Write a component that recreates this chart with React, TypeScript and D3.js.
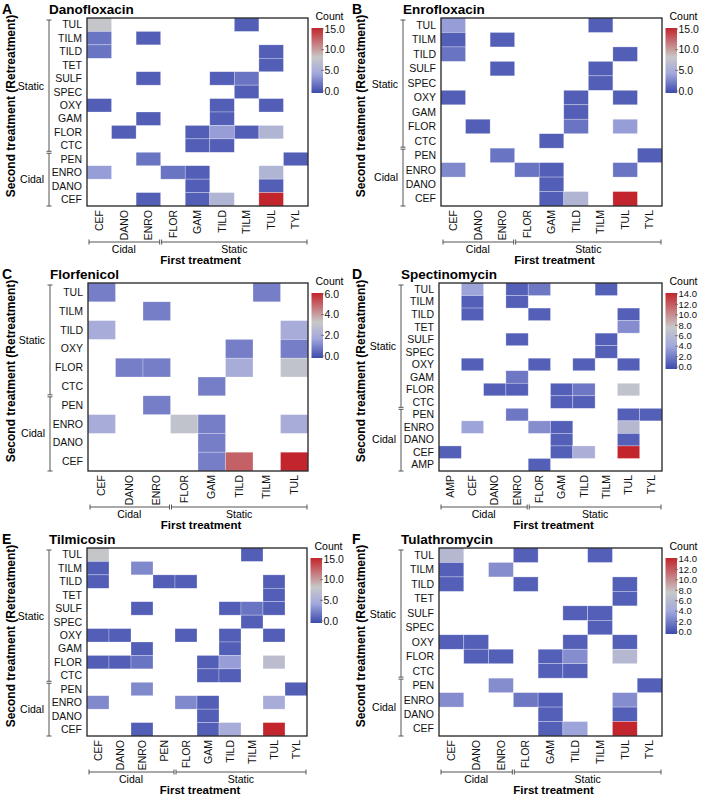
import React from "react";
import * as d3 from "d3";

// ---------- DATA ----------
const colsStd = ["CEF", "DANO", "ENRO", "FLOR", "GAM", "TILD", "TILM", "TUL", "TYL"];

const rowsA = ["TUL", "TILM", "TILD", "TET", "SULF", "SPEC", "OXY", "GAM", "FLOR", "CTC", "PEN", "ENRO", "DANO", "CEF"];
const valsA = [
  [8, 0, 0, 0, 0, 0, 1, 0, 0],
  [2, 0, 1, 0, 0, 0, 0, 0, 0],
  [2, 0, 0, 0, 0, 0, 0, 1, 0],
  [0, 0, 0, 0, 0, 0, 0, 1, 0],
  [0, 0, 1, 0, 0, 1, 2, 0, 0],
  [0, 0, 0, 0, 0, 0, 1, 0, 0],
  [1, 0, 0, 0, 0, 1, 0, 1, 0],
  [0, 0, 1, 0, 0, 1, 0, 0, 0],
  [0, 1, 0, 0, 1, 4, 1, 6, 0],
  [0, 0, 0, 0, 1, 1, 0, 0, 0],
  [0, 0, 2, 0, 0, 0, 0, 0, 1],
  [4, 0, 0, 2, 1, 0, 0, 6, 0],
  [0, 0, 0, 0, 1, 0, 0, 1, 0],
  [0, 0, 1, 0, 1, 6, 0, 15, 0],
];

const rowsB = ["TUL", "TILM", "TILD", "SULF", "SPEC", "OXY", "GAM", "FLOR", "CTC", "PEN", "ENRO", "DANO", "CEF"];
const valsB = [
  [4, 0, 0, 0, 0, 0, 1, 0, 0],
  [1, 0, 1, 0, 0, 0, 0, 0, 0],
  [2, 0, 0, 0, 0, 0, 0, 1, 0],
  [0, 0, 1, 0, 0, 0, 1, 0, 0],
  [0, 0, 0, 0, 0, 0, 1, 0, 0],
  [1, 0, 0, 0, 0, 1, 0, 1, 0],
  [0, 0, 0, 0, 0, 1, 0, 0, 0],
  [0, 1, 0, 0, 0, 2, 0, 4, 0],
  [0, 0, 0, 0, 1, 0, 0, 0, 0],
  [0, 0, 2, 0, 0, 0, 0, 0, 1],
  [3, 0, 0, 2, 1, 0, 0, 2, 0],
  [0, 0, 0, 0, 1, 0, 0, 0, 0],
  [0, 0, 0, 0, 1, 6, 0, 15, 0],
];

const colsC = ["CEF", "DANO", "ENRO", "FLOR", "GAM", "TILD", "TILM", "TUL"];
const rowsC = ["TUL", "TILM", "TILD", "OXY", "FLOR", "CTC", "PEN", "ENRO", "DANO", "CEF"];
const valsC = [
  [1, 0, 0, 0, 0, 0, 1, 0],
  [0, 0, 1, 0, 0, 0, 0, 0],
  [2, 0, 0, 0, 0, 0, 0, 2],
  [0, 0, 0, 0, 0, 1, 0, 1],
  [0, 1, 1, 0, 0, 2, 0, 3],
  [0, 0, 0, 0, 1, 0, 0, 0],
  [0, 0, 1, 0, 0, 0, 0, 0],
  [2, 0, 0, 3, 1, 0, 0, 2],
  [0, 0, 0, 0, 1, 0, 0, 0],
  [0, 0, 0, 0, 1, 5, 0, 6],
];

const colsD = ["AMP", "CEF", "DANO", "ENRO", "FLOR", "GAM", "TILD", "TILM", "TUL", "TYL"];
const rowsD = ["TUL", "TILM", "TILD", "TET", "SULF", "SPEC", "OXY", "GAM", "FLOR", "CTC", "PEN", "ENRO", "DANO", "CEF", "AMP"];
const valsD = [
  [0, 4, 0, 1, 2, 0, 0, 1, 0, 0],
  [0, 1, 0, 1, 0, 0, 0, 0, 0, 0],
  [0, 1, 0, 0, 1, 0, 0, 0, 1, 0],
  [0, 0, 0, 0, 0, 0, 0, 0, 3, 0],
  [0, 0, 0, 1, 0, 0, 0, 1, 0, 0],
  [0, 0, 0, 0, 0, 0, 0, 1, 0, 0],
  [0, 1, 0, 0, 1, 0, 1, 0, 1, 0],
  [0, 0, 0, 2, 0, 0, 0, 0, 0, 0],
  [0, 0, 1, 1, 0, 1, 2, 0, 7, 0],
  [0, 0, 0, 0, 0, 1, 1, 0, 0, 0],
  [0, 0, 0, 2, 0, 0, 0, 0, 1, 1],
  [0, 4, 0, 0, 3, 1, 0, 0, 6, 0],
  [0, 0, 0, 0, 0, 1, 0, 0, 1, 0],
  [1, 0, 0, 0, 0, 1, 5, 0, 14, 0],
  [0, 0, 0, 0, 1, 0, 0, 0, 0, 0],
];

const colsE = ["CEF", "DANO", "ENRO", "PEN", "FLOR", "GAM", "TILD", "TILM", "TUL", "TYL"];
const rowsE = rowsA;
const valsE = [
  [8, 0, 0, 0, 0, 0, 0, 1, 0, 0],
  [1, 0, 3, 0, 0, 0, 0, 0, 0, 0],
  [1, 0, 0, 1, 1, 0, 0, 0, 1, 0],
  [0, 0, 0, 0, 0, 0, 0, 0, 1, 0],
  [0, 0, 1, 0, 0, 0, 1, 2, 1, 0],
  [0, 0, 0, 0, 0, 0, 0, 1, 0, 0],
  [1, 1, 0, 0, 1, 0, 1, 0, 1, 0],
  [0, 0, 1, 0, 0, 0, 1, 0, 0, 0],
  [1, 1, 2, 0, 0, 1, 4, 0, 7, 0],
  [0, 0, 0, 0, 0, 1, 1, 0, 0, 0],
  [0, 0, 3, 0, 0, 0, 0, 0, 0, 1],
  [3, 0, 0, 0, 3, 1, 0, 0, 5, 0],
  [0, 0, 0, 0, 0, 1, 0, 0, 0, 0],
  [0, 0, 1, 0, 0, 1, 5, 0, 15, 0],
];

const rowsF = ["TUL", "TILM", "TILD", "TET", "SULF", "SPEC", "OXY", "FLOR", "CTC", "PEN", "ENRO", "DANO", "CEF"];
const valsF = [
  [6, 0, 0, 1, 0, 0, 1, 0, 0],
  [1, 0, 3, 0, 0, 0, 0, 0, 0],
  [1, 0, 0, 1, 0, 0, 0, 1, 0],
  [0, 0, 0, 0, 0, 0, 0, 1, 0],
  [0, 0, 0, 0, 0, 1, 1, 0, 0],
  [0, 0, 0, 0, 0, 0, 1, 0, 0],
  [1, 1, 0, 0, 0, 1, 0, 1, 0],
  [0, 1, 1, 0, 1, 3, 0, 6, 0],
  [0, 0, 0, 0, 1, 1, 0, 0, 0],
  [0, 0, 3, 0, 0, 0, 0, 0, 1],
  [3, 0, 0, 2, 1, 0, 0, 3, 0],
  [0, 0, 0, 0, 1, 0, 0, 1, 0],
  [0, 0, 0, 0, 1, 4, 0, 14, 0],
];

const ticks15 = [0, 5, 10, 15];
const ticks6 = [0, 2, 4, 6];
const ticks14 = [0, 2, 4, 6, 8, 10, 12, 14];

const panels = [
  { letter: "A", title: "Danofloxacin", cols: colsStd, rows: rowsA, vals: valsA, xCidal: 3, yStatic: 10, max: 15, ticks: ticks15 },
  { letter: "B", title: "Enrofloxacin", cols: colsStd, rows: rowsB, vals: valsB, xCidal: 3, yStatic: 9, max: 15, ticks: ticks15 },
  { letter: "C", title: "Florfenicol", cols: colsC, rows: rowsC, vals: valsC, xCidal: 3, yStatic: 6, max: 6, ticks: ticks6 },
  { letter: "D", title: "Spectinomycin", cols: colsD, rows: rowsD, vals: valsD, xCidal: 4, yStatic: 10, max: 14, ticks: ticks14 },
  { letter: "E", title: "Tilmicosin", cols: colsE, rows: rowsE, vals: valsE, xCidal: 4, yStatic: 10, max: 15, ticks: ticks15 },
  { letter: "F", title: "Tulathromycin", cols: colsStd, rows: rowsF, vals: valsF, xCidal: 3, yStatic: 9, max: 14, ticks: ticks14 },
];

// ---------- LAYOUT ----------
const W = 701;
const H = 795;
const FONT = "'Liberation Sans', Arial, sans-serif";
const layout = [
  { ox: 0, oy: 0, x0: 87, x1: 308 },
  { ox: 350, oy: 0, x0: 441, x1: 662 },
  { ox: 0, oy: 265, x0: 88, x1: 308 },
  { ox: 350, oy: 265, x0: 439, x1: 662 },
  { ox: 0, oy: 530, x0: 87, x1: 307 },
  { ox: 350, oy: 530, x0: 439, x1: 662 },
];

const STOPS = ["#3c4aad", "#a2a8dc", "#c8c8c8", "#c2252c"];
function colorScale(max: number) {
  return d3
    .scaleLinear<string>()
    .domain([0, 0.3 * max, 0.55 * max, max])
    .range(STOPS)
    .interpolate(d3.interpolateRgb);
}

function Bracket({ x1, y1, x2, y2, vertical }: any) {
  const c = 2.5;
  const col = "#555";
  return (
    <g stroke={col} strokeWidth={1} fill="none">
      <line x1={x1} y1={y1} x2={x2} y2={y2} />
      {vertical ? (
        <>
          <line x1={x1 - c} y1={y1} x2={x1 + c} y2={y1} />
          <line x1={x2 - c} y1={y2} x2={x2 + c} y2={y2} />
        </>
      ) : (
        <>
          <line x1={x1} y1={y1 - c} x2={x1} y2={y1 + c} />
          <line x1={x2} y1={y2 - c} x2={x2} y2={y2 + c} />
        </>
      )}
    </g>
  );
}

function Panel({ p, l, idx }: any) {
  const top = l.oy + 18;
  const bottom = l.oy + 206;
  const x = d3.scaleBand<string>().domain(p.cols).range([l.x0, l.x1]);
  const y = d3.scaleBand<string>().domain(p.rows).range([top, bottom]);
  const color = colorScale(p.max);
  const cbX = l.x1 + 3.5;
  const cbW = 11.5;
  const cbTop = l.oy + 28;
  const dense = p.ticks.length > 5;
  const cbBot = l.oy + (dense ? 104 : 93);
  const cbY = d3.scaleLinear().domain([0, p.max]).range([cbBot - 2, cbTop + 1]);
  const gid = `grad${idx}`;
  const brX = l.x0 - 38;
  const splitY = y(p.rows[p.yStatic]) as number;
  const splitX = x(p.cols[p.xCidal]) as number;
  const brY = bottom + 36;
  const cells: any[] = [];
  p.rows.forEach((r: string, i: number) => {
    p.cols.forEach((c: string, j: number) => {
      const v = p.vals[i][j];
      if (v > 0) {
        cells.push(
          <rect
            key={`${r}-${c}`}
            x={x(c)}
            y={y(r)}
            width={x.bandwidth()}
            height={y.bandwidth()}
            fill={color(v)}
            stroke="rgba(255,255,255,0.45)"
            strokeWidth={0.6}
          />
        );
      }
    });
  });
  return (
    <g fontFamily={FONT}>
      <text x={l.ox + 2} y={l.oy + 14} fontSize={14} fontWeight="bold">
        {p.letter}
      </text>
      <text x={brX} y={l.oy + 14} fontSize={13.5} fontWeight="bold">
        {p.title}
      </text>
      {cells}
      <rect x={l.x0} y={top} width={l.x1 - l.x0} height={bottom - top} fill="none" stroke="#222" strokeWidth={1.3} />
      {p.rows.map((r: string) => (
        <text key={r} x={l.x0 - 5} y={(y(r) as number) + y.bandwidth() / 2} dy="0.35em" fontSize={10.5} textAnchor="end" fill="#111">
          {r}
        </text>
      ))}
      {p.cols.map((c: string) => (
        <text
          key={c}
          transform={`translate(${(x(c) as number) + x.bandwidth() / 2},${bottom + 4}) rotate(-90)`}
          dy="0.35em"
          fontSize={10.5}
          textAnchor="end"
          fill="#111"
        >
          {c}
        </text>
      ))}
      {/* y brackets */}
      <Bracket x1={brX} y1={top + 2} x2={brX} y2={splitY - 1} vertical />
      <Bracket x1={brX} y1={splitY + 1} x2={brX} y2={bottom} vertical />
      <text x={brX - 5} y={(top + 2 + splitY) / 2} dy="0.35em" fontSize={10.5} textAnchor="end">
        Static
      </text>
      <text x={brX - 5} y={(splitY + bottom) / 2} dy="0.35em" fontSize={10.5} textAnchor="end">
        Cidal
      </text>
      <text
        transform={`translate(${l.ox + 11},${(top + bottom) / 2 - 6}) rotate(-90)`}
        dy="0.35em"
        fontSize={12}
        fontWeight="bold"
        textAnchor="middle"
      >
        Second treatment (Retreatment)
      </text>
      {/* x brackets */}
      <Bracket x1={l.x0 + 2} y1={brY} x2={splitX - 1} y2={brY} />
      <Bracket x1={splitX + 1} y1={brY} x2={l.x1 - 1} y2={brY} />
      <text x={(l.x0 + splitX) / 2} y={bottom + 47} fontSize={10.5} textAnchor="middle">
        Cidal
      </text>
      <text x={(splitX + l.x1) / 2} y={bottom + 47} fontSize={10.5} textAnchor="middle">
        Static
      </text>
      <text x={(l.x0 + l.x1) / 2 + 3} y={bottom + 58} fontSize={11.5} fontWeight="bold" textAnchor="middle">
        First treatment
      </text>
      {/* color bar */}
      <defs>
        <linearGradient id={gid} x1="0" y1="1" x2="0" y2="0">
          {d3.range(0, 1.0001, 0.05).map((t) => (
            <stop key={t} offset={`${t * 100}%`} stopColor={color(t * p.max)} />
          ))}
        </linearGradient>
      </defs>
      <text x={cbX + 4} y={l.oy + 20} fontSize={10.5}>
        Count
      </text>
      <rect x={cbX} y={cbTop} width={cbW} height={cbBot - cbTop} fill={`url(#${gid})`} />
      {p.ticks.map((t: number) => (
        <g key={t}>
          <line x1={cbX + cbW - 2} x2={cbX + cbW + 1} y1={cbY(t)} y2={cbY(t)} stroke="#666" strokeWidth={0.8} />
          <text x={cbX + cbW + 1.5} y={cbY(t)} dy="0.35em" fontSize={dense ? 9.5 : 10.5} fill="#111">
            {t.toFixed(1)}
          </text>
        </g>
      ))}
    </g>
  );
}

export default function App() {
  return (
    <div style={{ position: "absolute", left: 0, top: 0 }}>
      <svg width={W} height={H} viewBox={`0 0 ${W} ${H}`} style={{ display: "block", background: "#fff" }}>
        <rect width={W} height={H} fill="#fff" />
        {panels.map((p, i) => (
          <Panel key={p.letter} p={p} l={layout[i]} idx={i} />
        ))}
      </svg>
    </div>
  );
}
